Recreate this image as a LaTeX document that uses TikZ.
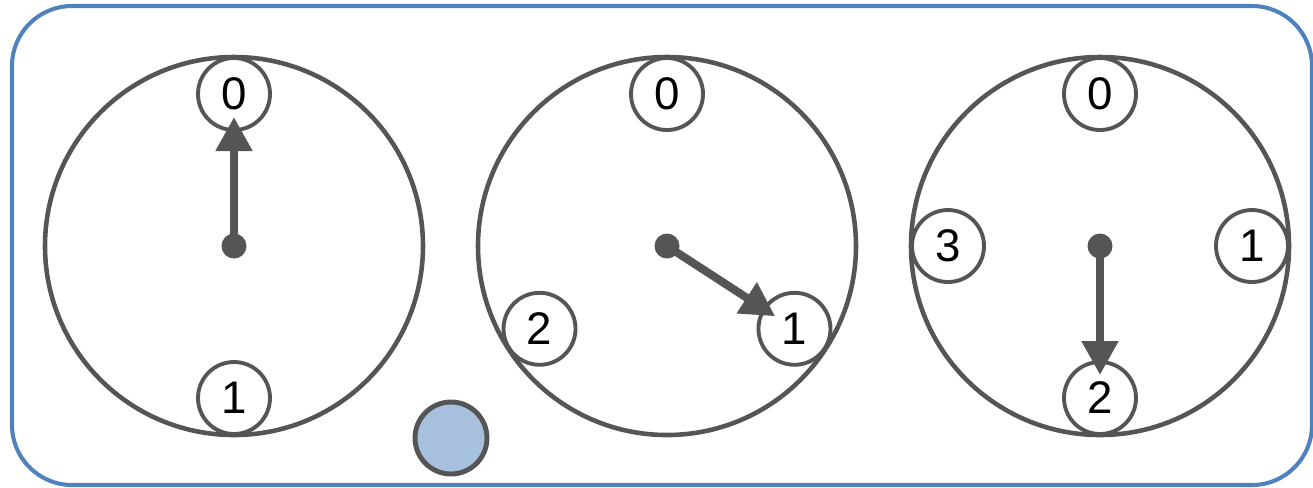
\documentclass[tikz,border=0pt]{standalone}
\usepackage{fontspec}
\setmainfont{Liberation Sans}
\usetikzlibrary{arrows.meta,calc,positioning}
\definecolor{DialInk}{RGB}{85,85,85}
\definecolor{FrameBlue}{RGB}{79,129,189}
\definecolor{KnobFill}{RGB}{167,192,222}

\begin{document}
\begin{tikzpicture}[
    dial/.style={circle,draw=DialInk,line width=1.3pt,
                 minimum size=3.78cm,inner sep=0pt},
    slot/.style={circle,draw=DialInk,fill=white,line width=1.1pt,
                minimum size=0.72cm,inner sep=0pt,
                font=\fontsize{13}{15}\selectfont},
    pivot/.style={circle,fill=DialInk,minimum size=0.25cm,inner sep=0pt},
    knob/.style={circle,draw=DialInk,fill=KnobFill,line width=1.4pt,
                 minimum size=0.72cm,inner sep=0pt},
    hand/.style={-{Triangle[width=3.5mm,length=3.4mm]},draw=DialInk,
                 line width=2.3pt,shorten >=2.3mm}
  ]
    \useasboundingbox (0,0) rectangle (13.13,-4.87);
    \draw[FrameBlue,line width=1.15pt,rounded corners=0.6cm]
      (0.12,-0.06) rectangle (13.12,-4.85);

    \node[dial] (d1) at (2.34,-2.46)  {};
    \node[dial] (d2) at (6.67,-2.46)  {};
    \node[dial] (d3) at (11.00,-2.46) {};

    % dial 1: two positions
    \node[slot] (d1p0) at ($(d1)+(90:1.52)$)  {0};
    \node[slot] (d1p1) at ($(d1)+(270:1.52)$) {1};
    % dial 2: three positions
    \node[slot] (d2p0) at ($(d2)+(90:1.52)$)  {0};
    \node[slot] (d2p1) at ($(d2)+(-33:1.52)$) {1};
    \node[slot] (d2p2) at ($(d2)+(213:1.52)$) {2};
    % dial 3: four positions
    \node[slot] (d3p0) at ($(d3)+(90:1.52)$)  {0};
    \node[slot] (d3p1) at ($(d3)+(0:1.52)$)   {1};
    \node[slot] (d3p2) at ($(d3)+(270:1.52)$) {2};
    \node[slot] (d3p3) at ($(d3)+(180:1.52)$) {3};

    \node[pivot] (c1) at (d1) {};
    \node[pivot] (c2) at (d2) {};
    \node[pivot] (c3) at (d3) {};

    \draw[hand] (c1.center) -- (d1p0.center);
    \draw[hand] (c2.center) -- (d2p1.center);
    \draw[hand] (c3.center) -- (d3p2.center);

    \node[knob] (k) at (4.51,-4.38) {};
  \end{tikzpicture}
\end{document}
